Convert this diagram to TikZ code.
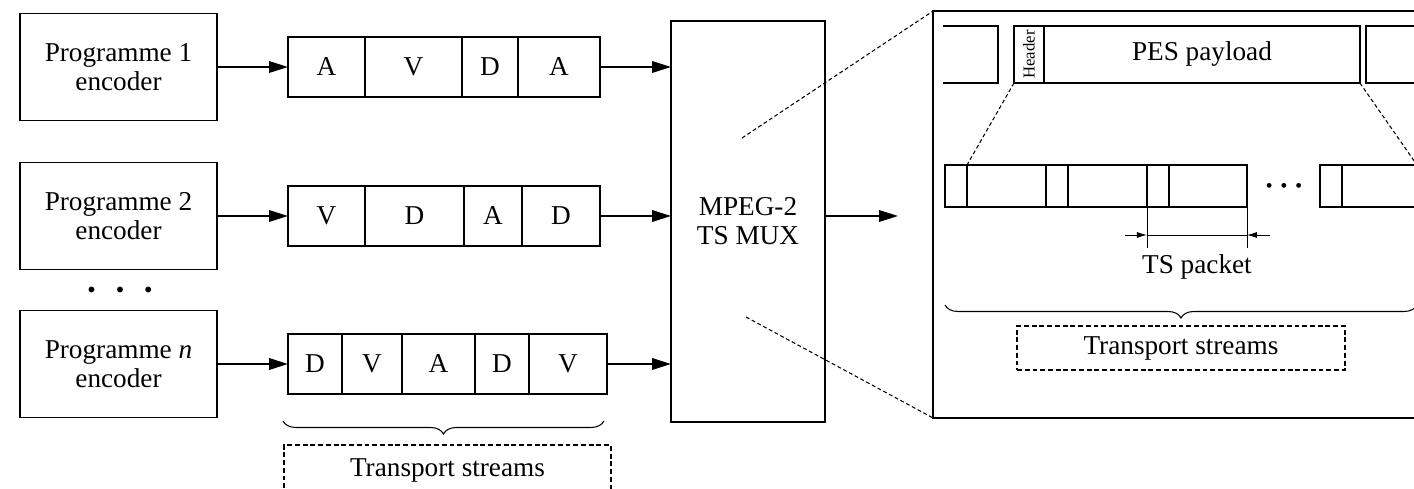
\documentclass[tikz,border=0pt]{standalone}
\usepackage{fontspec}
\setmainfont{Liberation Serif}
\usepackage{tikz}
\usetikzlibrary{positioning, arrows.meta, calc, decorations.pathreplacing}

\begin{document}
\begin{tikzpicture}[
	x=0.02cm, y=-0.02cm,
	% --- ESTILOS ---
	every node/.style={font=\fontsize{15.5}{16.5}\selectfont},
	encblock/.style={
		rectangle, draw, line width=1pt, inner sep=0pt, outer sep=0pt,
		minimum width=3.94cm, minimum height=2.14cm, align=center
	},
	cell/.style={
		rectangle, draw, line width=1pt, inner sep=0pt, outer sep=0pt,
		minimum height=1.2cm
	},
	muxblock/.style={
		rectangle, draw, line width=1pt, inner sep=0pt, outer sep=0pt,
		minimum width=3.08cm, minimum height=8.02cm, align=center
	},
	frameblock/.style={
		rectangle, draw, line width=1pt, inner sep=0pt, outer sep=0pt,
		minimum width=10.14cm, minimum height=8.14cm
	},
	pescell/.style={
		rectangle, draw, line width=0.8pt, inner sep=0pt, outer sep=0pt,
		minimum height=1.14cm
	},
	tscell/.style={
		rectangle, draw, line width=0.8pt, inner sep=0pt, outer sep=0pt,
		minimum height=0.84cm
	},
	line/.style={
		draw, line width=1.2pt, -{Triangle[length=3.8mm, width=2.3mm]}
	},
	zoomline/.style={
		draw, line width=0.6pt, dash pattern=on 2.2pt off 1.5pt
	},
	dashbox/.style={
		rectangle, draw, line width=0.7pt, dash pattern=on 2.8pt off 1.6pt,
		inner sep=0pt, outer sep=0pt
	},
	brace/.style={
		decorate, decoration={brace, mirror, amplitude=0.26cm}, line width=0.6pt
	},
	dotrow/.style={font=\fontsize{8}{8}\selectfont, inner sep=0pt},
	thinline/.style={draw, line width=0.5pt},
	dimline/.style={
		draw, line width=0.5pt, -{Latex[length=2mm, width=1.2mm]}
	}
	]
	\useasboundingbox (0,0) rectangle (1414,489);
	\clip (0,0) rectangle (1414,489);
	
	% ==========================================
	% 1. Codificadores de programa
	% ==========================================
	\node [encblock] (enc1) at (118.5,67) {Programme 1\\encoder};
	\node [encblock] (enc2) at (118.5,216) {Programme 2\\encoder};
	\node [encblock] (encn) at (118.5,364) {Programme \textit{n}\\encoder};
	\node [dotrow] (encdots) at (120,290) {$\bullet$\hspace{0.42cm}$\bullet$\hspace{0.42cm}$\bullet$};
	
	% ==========================================
	% 2. Flujos de paquetes
	% ==========================================
	% Fila 1
	\node [cell, minimum width=1.54cm, anchor=west] (s1a) at (288,67) {A};
	\node [cell, minimum width=1.94cm, right=0pt of s1a] (s1b) {V};
	\node [cell, minimum width=1.12cm, right=0pt of s1b] (s1c) {D};
	\node [cell, minimum width=1.64cm, right=0pt of s1c] (s1d) {A};
	% Fila 2
	\node [cell, minimum width=1.54cm, anchor=west] (s2a) at (288,216) {V};
	\node [cell, minimum width=1.98cm, right=0pt of s2a] (s2b) {D};
	\node [cell, minimum width=1.16cm, right=0pt of s2b] (s2c) {A};
	\node [cell, minimum width=1.56cm, right=0pt of s2c] (s2d) {D};
	% Fila n
	\node [cell, minimum width=1.08cm, anchor=west] (s3a) at (288,364) {D};
	\node [cell, minimum width=1.20cm, right=0pt of s3a] (s3b) {V};
	\node [cell, minimum width=1.46cm, right=0pt of s3b] (s3c) {A};
	\node [cell, minimum width=1.08cm, right=0pt of s3c] (s3d) {D};
	\node [cell, minimum width=1.56cm, right=0pt of s3d] (s3e) {V};
	
	\draw [line] (enc1) -- (s1a);
	\draw [line] (enc2) -- (s2a);
	\draw [line] (encn) -- (s3a);
	
	\draw [brace] ($(s3a.south west)+(-5,27)$) -- ($(s3e.south east)+(-3,27)$);
	\node [dashbox, minimum width=6.54cm, minimum height=1.0cm] (st_legend) at (447.5,470) {Transport streams};
	
	% ==========================================
	% 3. Multiplexor
	% ==========================================
	\node [muxblock] (mux) at (748,221.5) {MPEG-2\\TS MUX};
	\draw [line] (s1d) -- (s1d -| mux.west);
	\draw [line] (s2d) -- (s2d -| mux.west);
	\draw [line] (s3e) -- (s3e -| mux.west);
	
	\coordinate (muxout) at (898,216);
	\draw [line] (mux.east |- muxout) -- (muxout);
	
	% ==========================================
	% 4. Detalle: PES -> paquetes TS
	% ==========================================
	\node [frameblock] (zoombox) at (1186.5,214.5) {};
	\coordinate (zoom_t) at (742,138);
	\coordinate (zoom_b) at (746,317);
	\draw [zoomline] (zoom_t) -- (zoombox.north west);
	\draw [zoomline] (zoom_b) -- (zoombox.south west);
	
	% --- Paquete PES ---
	\draw [line width=0.8pt] (943,26) -| (998,83) -- (943,83); % paquete anterior
	\node [pescell, minimum width=0.6cm, anchor=north west] (pes_hd) at (1014,26) {\rotatebox{90}{\fontsize{9.5}{10}\selectfont Header}};
	\node [pescell, minimum width=6.32cm, right=0pt of pes_hd] (pes_pl) {PES payload};
	\draw [line width=0.8pt] (1440,26) -| (1366,83) -- (1440,83); % paquete siguiente
	
	% --- Paquetes TS ---
	\node [tscell, minimum width=0.44cm, anchor=north west] (ts_h1) at (945,165) {};
	\node [tscell, minimum width=1.58cm, right=0pt of ts_h1] (ts_p1) {};
	\node [tscell, minimum width=0.44cm, right=0pt of ts_p1] (ts_h2) {};
	\node [tscell, minimum width=1.58cm, right=0pt of ts_h2] (ts_p2) {};
	\node [tscell, minimum width=0.44cm, right=0pt of ts_p2] (ts_h3) {};
	\node [tscell, minimum width=1.56cm, right=0pt of ts_h3] (ts_p3) {};
	\node [dotrow, font=\fontsize{6}{6}\selectfont] (ts_dots) at (1284,186) {$\bullet$\hspace{0.16cm}$\bullet$\hspace{0.16cm}$\bullet$};
	\node [tscell, minimum width=0.44cm, anchor=north west] (ts_h4) at (1320,165) {};
	\node [tscell, minimum width=1.5cm, right=0pt of ts_h4] (ts_p4) {};
	
	\draw [zoomline] (pes_hd.south west) -- (ts_p1.north west);
	\draw [zoomline] (pes_pl.south east) -- (ts_p4.north east);
	
	% Cota del paquete TS
	\draw [thinline] (ts_h3.south west) -- ++(0,41);
	\draw [thinline] (ts_p3.south east) -- ++(0,41);
	\coordinate (pk_l) at ($(ts_h3.south west)+(0,28)$);
	\coordinate (pk_r) at ($(ts_p3.south east)+(0,28)$);
	\draw [thinline] (pk_l) -- (pk_r);
	\draw [dimline] ($(pk_l)+(-22,0)$) -- (pk_l);
	\draw [dimline] ($(pk_r)+(23,0)$) -- (pk_r);
	\node (pk_label) at ($(pk_l)!0.5!(pk_r)+(0,32)$) {TS packet};
	
	\draw [brace] ($(ts_h1.south west)+(0,98)$) -- ($(ts_p4.south east)+(0,98)$);
	\node [dashbox, minimum width=6.56cm, minimum height=0.88cm] (ts_legend) at (1181,348) {Transport streams};
\end{tikzpicture}
\end{document}
